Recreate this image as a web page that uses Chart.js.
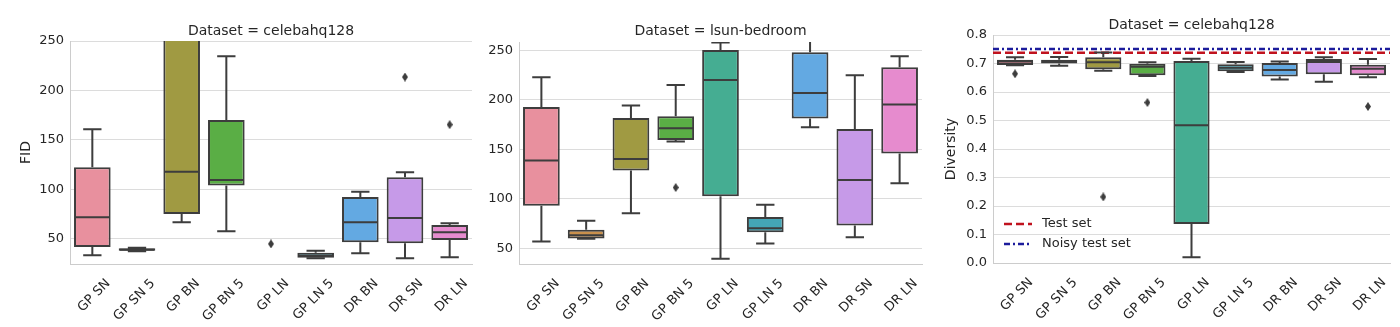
<!DOCTYPE html>
<html>
<head>
<meta charset="utf-8">
<script src="https://cdn.jsdelivr.net/npm/chart.js@4/dist/chart.umd.min.js"></script>
<style>
  body { margin: 0; background: #fff; }
  #wrap { position: relative; width: 1400px; height: 327px; }
  .panel { position: absolute; top: 0; height: 327px; }
</style>
</head>
<body>
<div id="wrap">
  <div class="panel" style="left:0;width:480px"><canvas id="fidCeleba"></canvas></div>
  <div class="panel" style="left:480px;width:450px"><canvas id="fidLsun"></canvas></div>
  <div class="panel" style="left:930px;width:470px"><canvas id="divCeleba"></canvas></div>
</div>
<script>
const methods = ['GP SN', 'GP SN 5', 'GP BN', 'GP BN 5', 'GP LN', 'GP LN 5', 'DR BN', 'DR SN', 'DR LN'];

// each box: [lower whisker, Q1, median, Q3, upper whisker]
const fidCeleba = [
  [33.5, 41.9, 71.9, 122.4, 160.8],
  [37.5, 38, 39, 40.5, 41],
  [66.8, 75.3, 118, 300, 340],
  [57.7, 103.9, 109.6, 170.2, 234.5],
  null, // GP LN box sits above the axis range
  [30.5, 31, 33, 36, 38],
  [35.5, 46.6, 66.8, 92.4, 97.8],
  [30.5, 45.6, 71.2, 112.3, 117.3],
  [31.5, 49, 56.7, 64.1, 65.8]
];
const fidCelebaOutliers = [['GP LN', 45], ['DR SN', 213.6], ['DR LN', 165.5]];

const fidLsun = [
  [56.7, 92.8, 138.6, 192.8, 222.7],
  [59.5, 59.8, 63.1, 68.5, 77.6],
  [85.4, 128.5, 140.2, 181.7, 194.1],
  [157.7, 159.4, 171.2, 183.3, 215],
  [39.2, 102.5, 220, 250.3, 258],
  [54.7, 66.2, 70.2, 81.6, 93.8],
  [172.2, 181, 206.9, 248, 275],
  [61.1, 72.9, 119, 170.5, 224.7],
  [115.7, 145.6, 195.1, 232.8, 243.9]
];
const fidLsunOutliers = [['GP BN 5', 111.3]];

const divCeleba = [
  [0.694, 0.695, 0.707, 0.713, 0.7215],
  [0.692, 0.700, 0.709, 0.713, 0.7227],
  [0.675, 0.680, 0.704, 0.7215, 0.739],
  [0.656, 0.659, 0.689, 0.699, 0.704],
  [0.020, 0.137, 0.483, 0.709, 0.717],
  [0.670, 0.673, 0.685, 0.697, 0.705],
  [0.644, 0.654, 0.677, 0.702, 0.707],
  [0.636, 0.662, 0.705, 0.716, 0.7215],
  [0.652, 0.659, 0.682, 0.696, 0.716]
];
const divCelebaOutliers = [['GP SN', 0.664], ['GP BN', 0.232], ['GP BN 5', 0.563], ['DR LN', 0.549]];

const testSetDiversity = 0.738;
const noisyTestSetDiversity = 0.751;

const fidTicks = [50, 100, 150, 200, 250];
const divTicks = [0, 0.1, 0.2, 0.3, 0.4, 0.5, 0.6, 0.7, 0.8];

const boxColors = ['#e8909e', '#c9904c', '#a09a42', '#5aae45', '#45ad92', '#44a6b6', '#63a9e2', '#c69ae8', '#e68bce'];
const lineGray = '#3d3d3d';
const textColor = '#262626';

Chart.defaults.font.family = 'DejaVu Sans';
Chart.defaults.color = textColor;

// thin diamond marker for fliers
const flier = document.createElement('canvas');
flier.width = 6; flier.height = 9;
(function () {
  const c = flier.getContext('2d');
  c.fillStyle = lineGray;
  c.beginPath();
  c.moveTo(3, 0); c.lineTo(6, 4.5); c.lineTo(3, 9); c.lineTo(0, 4.5);
  c.closePath();
  c.fill();
})();

// whiskers, caps and median lines on top of the floating bars
const boxWhiskers = {
  id: 'boxWhiskers',
  afterDatasetsDraw(chart) {
    const { ctx, chartArea: a, scales: { y } } = chart;
    chart.data.datasets.forEach((ds, di) => {
      if (!ds.stats) return;
      const meta = chart.getDatasetMeta(di);
      ctx.save();
      ctx.beginPath();
      ctx.rect(a.left, a.top, a.width, a.height);
      ctx.clip();
      ctx.strokeStyle = lineGray;
      ctx.lineWidth = 2;
      meta.data.forEach((bar, i) => {
        const s = ds.stats[i];
        if (!s) return;
        const [lo, q1, med, q3, hi] = s.map(v => y.getPixelForValue(v));
        const half = bar.width / 2 - 1, cap = bar.width / 4;
        ctx.beginPath();
        ctx.moveTo(bar.x, q1); ctx.lineTo(bar.x, lo);
        ctx.moveTo(bar.x - cap, lo); ctx.lineTo(bar.x + cap, lo);
        ctx.moveTo(bar.x, q3); ctx.lineTo(bar.x, hi);
        ctx.moveTo(bar.x - cap, hi); ctx.lineTo(bar.x + cap, hi);
        ctx.moveTo(bar.x - half, med); ctx.lineTo(bar.x + half, med);
        ctx.stroke();
      });
      ctx.restore();
    });
  }
};

// legend in the lower left corner of the plot area
const cornerLegend = {
  id: 'cornerLegend',
  afterDraw(chart) {
    const items = chart.data.datasets.filter(d => d.xAxisID === 'xRef');
    if (!items.length) return;
    const { ctx, chartArea: a } = chart;
    ctx.save();
    ctx.font = '13px "DejaVu Sans"';
    ctx.textBaseline = 'middle';
    items.forEach((d, i) => {
      const yy = a.bottom - 39 + i * 20;
      const x0 = a.left + 11;
      ctx.strokeStyle = d.borderColor;
      ctx.lineWidth = d.borderWidth;
      ctx.setLineDash(d.borderDash);
      ctx.beginPath();
      ctx.moveTo(x0, yy); ctx.lineTo(x0 + 28, yy);
      ctx.stroke();
      ctx.setLineDash([]);
      ctx.fillStyle = textColor;
      ctx.fillText(d.label, x0 + 38, yy);
    });
    ctx.restore();
  }
};

function makePanel(id, cfg) {
  const datasets = [
    {
      type: 'bar',
      xAxisID: 'x',
      data: cfg.stats.map(s => s ? [s[1], s[3]] : null),
      stats: cfg.stats,
      backgroundColor: boxColors,
      borderColor: lineGray,
      borderWidth: 2,
      borderSkipped: false,
      grouped: false,
      categoryPercentage: 1,
      barPercentage: 0.82,
      order: 2
    },
    {
      type: 'line',
      xAxisID: 'x',
      data: cfg.outliers.map(([m, v]) => ({ x: m, y: v })),
      showLine: false,
      pointStyle: flier,
      order: 1
    }
  ];
  (cfg.refLines || []).forEach(r => datasets.push({
    type: 'line',
    label: r.label,
    xAxisID: 'xRef',
    data: [{ x: 0, y: r.value }, { x: 1, y: r.value }],
    borderColor: r.color,
    borderWidth: 2.5,
    borderDash: r.dash,
    pointRadius: 0,
    order: 0
  }));

  const scales = {
    x: {
      type: 'category',
      labels: methods,
      grid: { display: false },
      border: { display: true, color: '#cccccc', width: 1 },
      ticks: { minRotation: 45, maxRotation: 45, padding: 4, labelOffset: 16, font: { size: 13 }, color: textColor },
      afterFit: s => { s.height = cfg.xHeight; }
    },
    y: {
      min: cfg.min,
      max: cfg.max,
      grid: { color: '#dcdcdc', lineWidth: 1, drawTicks: false },
      border: { display: true, color: '#cccccc', width: 1 },
      ticks: {
        padding: 6,
        font: { size: 13 },
        color: textColor,
        callback: cfg.fmt
      },
      afterBuildTicks: s => { s.ticks = cfg.ticks.map(v => ({ value: v })); },
      afterFit: s => { s.width = cfg.yWidth; },
      title: {
        display: !!cfg.yTitle,
        text: cfg.yTitle,
        font: { size: 14 },
        color: textColor,
        padding: { top: cfg.yTitlePad, bottom: 0 }
      }
    }
  };
  if (cfg.refLines) {
    scales.xRef = { type: 'linear', min: 0, max: 1, display: false };
  }

  return new Chart(document.getElementById(id), {
    data: { labels: methods, datasets },
    options: {
      responsive: true,
      maintainAspectRatio: false,
      animation: false,
      layout: { padding: { left: 0, right: cfg.rightPad, top: 0, bottom: 0 } },
      scales,
      plugins: {
        legend: { display: false },
        tooltip: { enabled: false },
        title: {
          display: true,
          text: cfg.title,
          fullSize: false,
          font: { size: 14, weight: 'normal' },
          color: textColor,
          padding: cfg.titlePad
        }
      }
    },
    plugins: [boxWhiskers, cornerLegend]
  });
}

makePanel('fidCeleba', {
  title: 'Dataset = celebahq128',
  stats: fidCeleba,
  outliers: fidCelebaOutliers,
  min: 24.7, max: 250,
  ticks: fidTicks,
  fmt: v => v,
  yTitle: 'FID',
  yTitlePad: 17.6,
  yWidth: 70,
  rightPad: 8,
  xHeight: 63,
  titlePad: { top: 22.6, bottom: 1.6 }
});

makePanel('fidLsun', {
  title: 'Dataset = lsun-bedroom',
  stats: fidLsun,
  outliers: fidLsunOutliers,
  min: 34, max: 258.4,
  ticks: fidTicks,
  fmt: v => v,
  yTitle: '',
  yWidth: 39,
  rightPad: 8,
  xHeight: 63,
  titlePad: { top: 22.6, bottom: 2.6 }
});

makePanel('divCeleba', {
  title: 'Dataset = celebahq128',
  stats: divCeleba,
  outliers: divCelebaOutliers,
  min: 0, max: 0.8,
  ticks: divTicks,
  fmt: v => v.toFixed(1),
  yTitle: 'Diversity',
  yTitlePad: 13.3,
  yWidth: 63,
  rightPad: 10,
  xHeight: 64,
  titlePad: { top: 17.3, bottom: 0.9 },
  refLines: [
    { label: 'Test set', value: testSetDiversity, color: '#c0121e', dash: [8, 4] },
    { label: 'Noisy test set', value: noisyTestSetDiversity, color: '#1c1c9c', dash: [6, 3, 2, 3] }
  ]
});
</script>
</body>
</html>
